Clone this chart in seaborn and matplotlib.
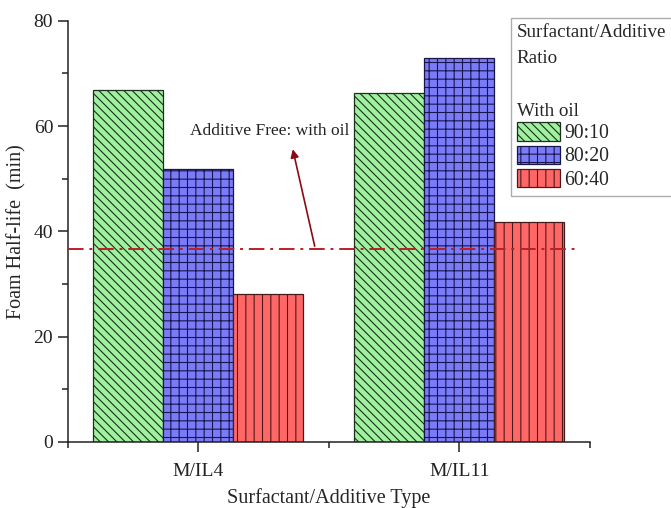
import pandas as pd
import seaborn as sns
import matplotlib.pyplot as plt
from matplotlib.ticker import MultipleLocator, FixedLocator

# values
types = ["M/IL4", "M/IL11"]
ratios = ["90:10", "80:20", "60:40"]
half_life = {
    "90:10": [66.9, 66.2],
    "80:20": [51.8, 72.9],
    "60:40": [28.1, 41.8],
}
additive_free = 36.6

colors = ["#9ff09f", "#7b7bf8", "#ff6767"]
edges = ["#1c2e1c", "#16164a", "#4a1a1a"]
hatches = ["\\\\\\\\", "++", "||"]

rows = []
for r in ratios:
    for t, v in zip(types, half_life[r]):
        rows.append({"type": t, "ratio": r, "half_life": v})
df = pd.DataFrame(rows)

sns.set_style("ticks")
plt.rcParams["font.family"] = ["Liberation Serif", "DejaVu Serif"]
plt.rcParams["hatch.linewidth"] = 0.8

fig = plt.figure(figsize=(6.71, 5.08), dpi=100)
ax = fig.add_axes([0.101, 0.130, 0.778, 0.829])

sns.barplot(data=df, x="type", y="half_life", hue="ratio", order=types,
            hue_order=ratios, palette=colors, saturation=1, width=0.805,
            linewidth=0.9, legend=False, ax=ax)

for cont, hc, ec in zip(ax.containers, hatches, edges):
    for bar in cont:
        bar.set_hatch(hc)
        bar.set_edgecolor(ec)

# additive free reference line
ax.hlines(additive_free, -0.5, 1.46, colors="#b8202a", linestyles=(0, (8, 3, 1.5, 3)),
          linewidth=1.4, zorder=5)
ax.annotate("Additive Free: with oil", xy=(0.362, 56.0), xytext=(0.273, 59.0),
            fontsize=12.5, ha="center", va="center", color="#222222")
ax.annotate("", xy=(0.362, 55.6), xytext=(0.446, 37.2),
            arrowprops=dict(arrowstyle="-|>", color="#8b0a14", lw=1.2,
                            mutation_scale=12, shrinkA=0, shrinkB=0))

ax.set_xlim(-0.5, 1.5)
ax.set_ylim(0, 80)
ax.yaxis.set_major_locator(MultipleLocator(20))
ax.yaxis.set_minor_locator(MultipleLocator(10))
ax.xaxis.set_minor_locator(FixedLocator([-0.5, 0.5, 1.5]))

ax.set_xlabel("Surfactant/Additive Type", fontsize=14.5, labelpad=6)
ax.set_ylabel("Foam Half-life  (min)", fontsize=14.5, labelpad=5)
ax.tick_params(axis="both", which="major", labelsize=14, length=7, width=1.1,
               direction="out", color="#222222", labelcolor="#222222")
ax.tick_params(axis="both", which="minor", length=4, width=1.1, direction="out",
               color="#222222")
ax.tick_params(axis="x", which="major", pad=8)

sns.despine(ax=ax)
for s in ["left", "bottom"]:
    ax.spines[s].set_linewidth(1.1)
    ax.spines[s].set_color("#222222")

handles = [c.patches[0] for c in ax.containers]
leg = fig.legend(handles, ratios, title="Surfactant/Additive\nRatio\n\nWith oil",
                 loc="upper left", bbox_to_anchor=(511 / 671, 1 - 18 / 508),
                 fontsize=14.2, title_fontsize=13.7, alignment="left",
                 frameon=True, fancybox=False, edgecolor="#999999",
                 borderpad=0.3, borderaxespad=0, handlelength=2.2,
                 handleheight=1.05, handletextpad=0.2, labelspacing=0.12)
leg.get_frame().set_linewidth(1.0)
leg.get_title().set_linespacing(1.72)

fig.savefig("out.png", dpi=100)
